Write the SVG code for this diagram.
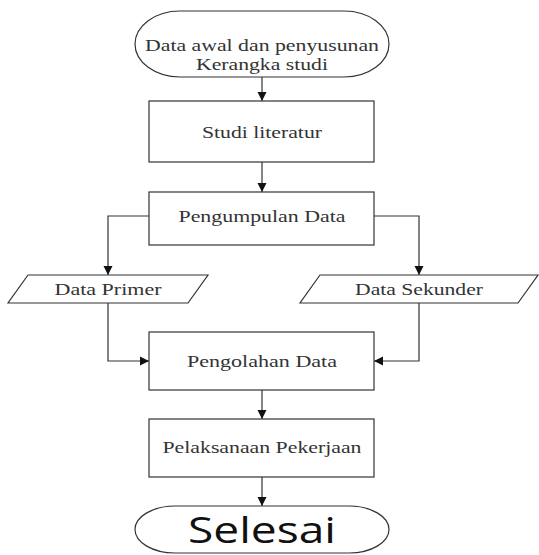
<svg xmlns="http://www.w3.org/2000/svg" width="539" height="555" viewBox="0 0 539 555">
<style>
.s{fill:#fff;stroke:#333;stroke-width:1.2}
.t{font-family:'Liberation Serif','DejaVu Serif','Times New Roman',serif;font-size:17px;fill:#333;text-anchor:middle}
.c{fill:none;stroke:#333;stroke-width:1.2}
</style>
<defs>
<marker id="a" markerUnits="userSpaceOnUse" markerWidth="10" markerHeight="10" refX="9" refY="5" orient="auto">
<path d="M0,0.5 L9,5 L0,9.5 z" fill="#111"/>
</marker>
</defs>
<rect width="539" height="555" fill="#fff"/>
<g id="connectors">
<path class="c" d="M262,77 V101" marker-end="url(#a)"/>
<path class="c" d="M262,162 V192" marker-end="url(#a)"/>
<path class="c" d="M149,216 H108 V275" marker-end="url(#a)"/>
<path class="c" d="M374,216 H419 V275" marker-end="url(#a)"/>
<path class="c" d="M108,303 V361 H149" marker-end="url(#a)"/>
<path class="c" d="M419,303 V361 H374" marker-end="url(#a)"/>
<path class="c" d="M262,390 V419" marker-end="url(#a)"/>
<path class="c" d="M262,477 V506" marker-end="url(#a)"/>
</g>
<g id="start">
<rect class="s" x="135" y="11" width="254" height="66" rx="45" ry="33"/>
<text class="t" x="262" y="51" textLength="234" lengthAdjust="spacingAndGlyphs">Data awal dan penyusunan</text>
<text class="t" x="262" y="70" textLength="132" lengthAdjust="spacingAndGlyphs">Kerangka studi</text>
</g>
<g id="studi">
<rect class="s" x="149" y="101" width="225" height="61"/>
<text class="t" x="262" y="138" textLength="120" lengthAdjust="spacingAndGlyphs">Studi literatur</text>
</g>
<g id="pengumpulan">
<rect class="s" x="149" y="192" width="225" height="53"/>
<text class="t" x="262" y="222" textLength="167" lengthAdjust="spacingAndGlyphs">Pengumpulan Data</text>
</g>
<g id="primer">
<polygon class="s" points="28,275 208,275 188,303 8,303"/>
<text class="t" x="108" y="295" textLength="107" lengthAdjust="spacingAndGlyphs">Data Primer</text>
</g>
<g id="sekunder">
<polygon class="s" points="320,275 538,275 518,303 300,303"/>
<text class="t" x="419" y="295" textLength="128" lengthAdjust="spacingAndGlyphs">Data Sekunder</text>
</g>
<g id="pengolahan">
<rect class="s" x="149" y="332" width="225" height="58"/>
<text class="t" x="262" y="367" textLength="150" lengthAdjust="spacingAndGlyphs">Pengolahan Data</text>
</g>
<g id="pelaksanaan">
<rect class="s" x="149" y="419" width="225" height="58"/>
<text class="t" x="262" y="453" font-size="15" textLength="199" lengthAdjust="spacingAndGlyphs">Pelaksanaan Pekerjaan</text>
</g>
<g id="selesai">
<rect class="s" x="135" y="506" width="254" height="47" rx="40" ry="23.5"/>
<text x="262" y="543" font-family="'Open Sans','Noto Sans',sans-serif" font-size="37" fill="#111" text-anchor="middle" textLength="148" lengthAdjust="spacingAndGlyphs">Selesai</text>
</g>
</svg>
